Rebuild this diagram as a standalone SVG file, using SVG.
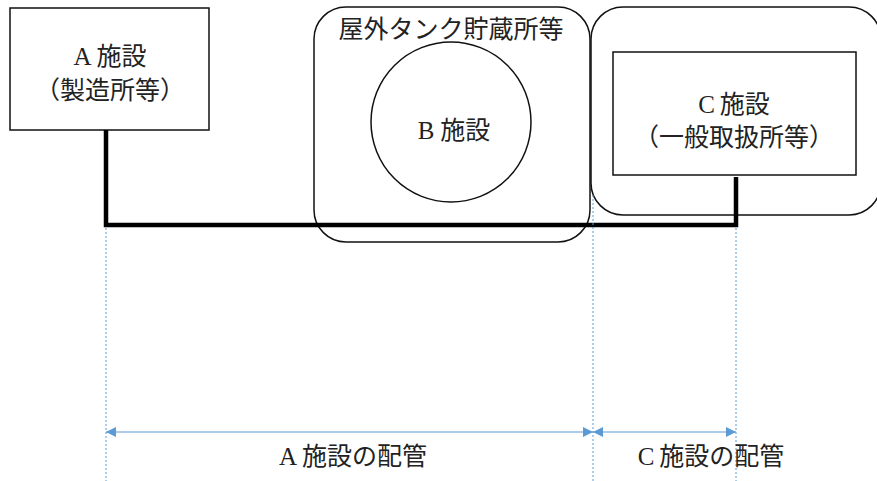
<svg xmlns="http://www.w3.org/2000/svg" width="877" height="481" viewBox="0 0 877 481">
<style>
.t{font-family:"Liberation Serif","Noto Sans CJK JP",serif;font-size:25px;fill:#222;text-anchor:middle}
.box{fill:#fff;stroke:#111;stroke-width:1.5}
.shp{fill:none;stroke:#111;stroke-width:1.5}
.pipe{fill:none;stroke:#000;stroke-width:4.5}
.dim{stroke:#5B9BD5;stroke-width:1.2;fill:none}
.guide{stroke:#5B9BD5;stroke-width:1;stroke-dasharray:2 2;fill:none}
</style>
<defs>
<marker id="ah" viewBox="0 0 10 10" refX="10" refY="5" markerWidth="10" markerHeight="10" markerUnits="userSpaceOnUse" orient="auto-start-reverse">
<path d="M0,0 L10,5 L0,10 z" fill="#5B9BD5"/>
</marker>
</defs>
<rect width="877" height="481" fill="#fff"/>
<g id="tank-area">
<rect class="shp" x="314" y="7" width="276" height="235" rx="32"/>
<text class="t" x="451" y="38" font-size="26">屋外タンク貯蔵所等</text>
</g>
<g id="c-area">
<rect class="shp" x="591" y="7" width="290" height="208" rx="32"/>
</g>
<g id="b">
<circle class="shp" cx="451" cy="122" r="80"/>
<text class="t" x="454" y="139" font-size="29">B<tspan dx="6">施設</tspan></text>
</g>
<g id="a">
<rect class="box" x="10" y="8" width="199" height="122"/>
<text class="t" x="110" y="65">A<tspan dx="5">施設</tspan></text>
<text class="t" x="110" y="99" font-size="26">（製造所等）</text>
</g>
<g id="c">
<rect class="box" x="613" y="52" width="243" height="123"/>
<text class="t" x="734" y="113">C<tspan dx="5">施設</tspan></text>
<text class="t" x="734" y="146" font-size="26">（一般取扱所等）</text>
</g>
<g id="connectors">
<polyline class="pipe" points="106,130 106,225 736,225 736,177"/>
<line class="guide" x1="106" y1="228" x2="106" y2="481"/>
<line class="guide" x1="593" y1="195" x2="593" y2="481"/>
<line class="guide" x1="736" y1="228" x2="736" y2="481"/>
<line class="dim" x1="106" y1="432" x2="593" y2="432" marker-start="url(#ah)" marker-end="url(#ah)"/>
<line class="dim" x1="593" y1="432" x2="736" y2="432" marker-start="url(#ah)" marker-end="url(#ah)"/>
</g>
<g id="labels">
<text class="t" x="353" y="465" font-size="26">A<tspan dx="5">施設の配管</tspan></text>
<text class="t" x="711" y="465" font-size="26">C<tspan dx="5">施設の配管</tspan></text>
</g>
</svg>
